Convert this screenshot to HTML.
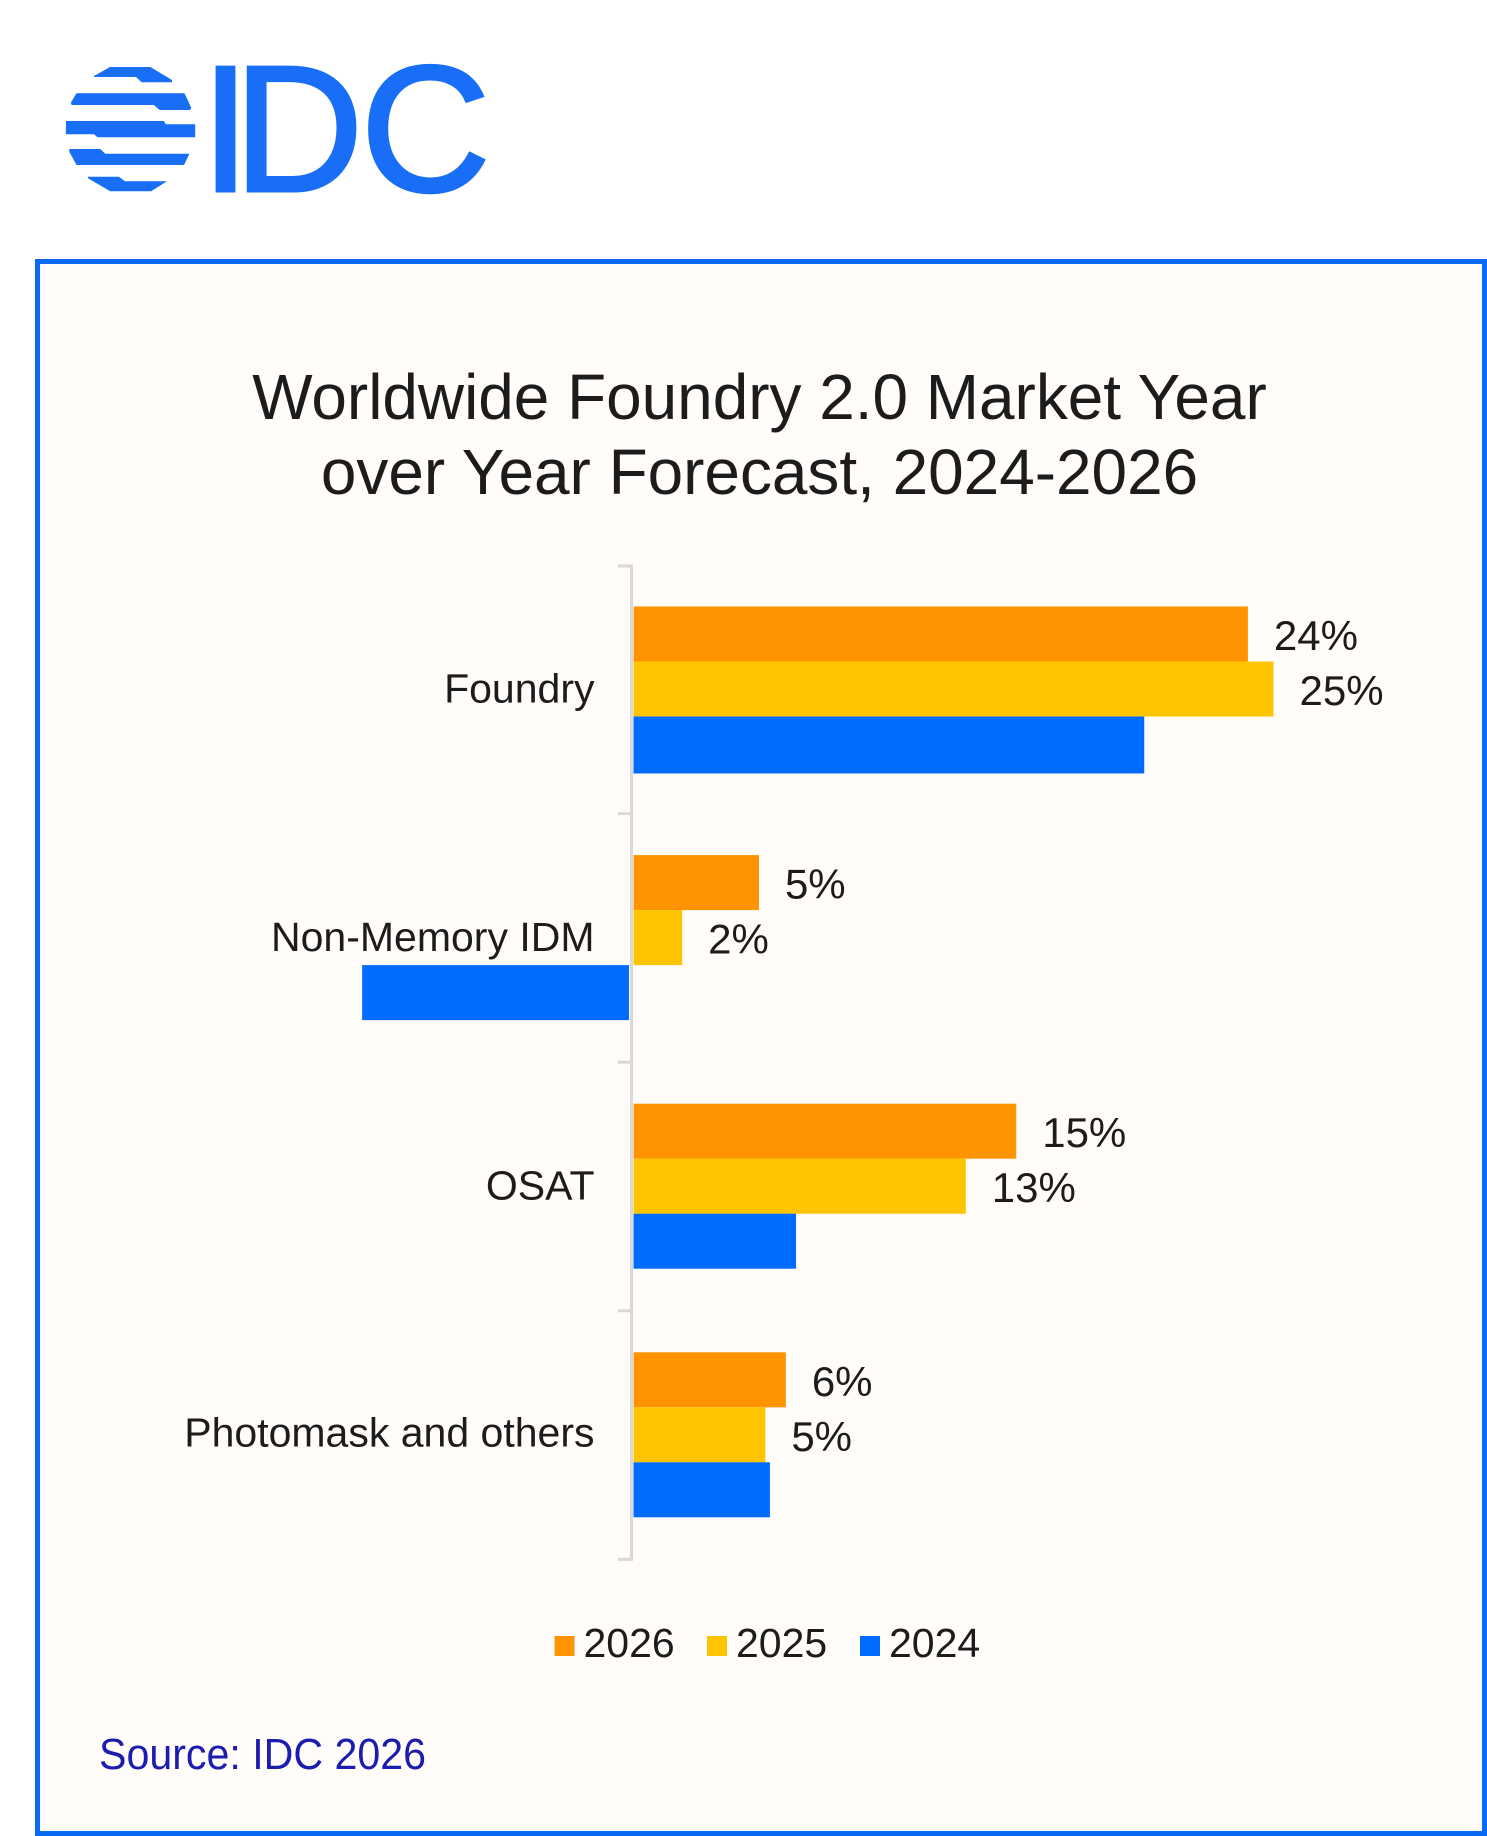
<!DOCTYPE html>
<html lang="en">
<head>
<meta charset="utf-8">
<title>Worldwide Foundry 2.0 Market Year over Year Forecast, 2024-2026</title>
<style>
html,body{margin:0;padding:0;background:#fff;width:1487px;height:1836px;overflow:hidden}
svg{display:block}
text{font-family:"Liberation Sans",sans-serif;fill:#1c1c1c}
</style>
</head>
<body>
<svg id="root" xmlns="http://www.w3.org/2000/svg" width="1487" height="1836" viewBox="0 0 1487 1836">
  <g>
    <g fill="#186ef6">
      <path d="M94 76L110 67H150.400L172 80V82.300H141.600L136 77H94Z"/>
      <path d="M76.500 93.300H184.500L191.300 107.700L190 110H159.600L153.800 105H71.600L70.800 102.700Z"/>
      <path d="M66 121H163.800L165.700 124.300H195.200V137.300H97.600L94 134.300H65.800Z"/>
      <path d="M69.300 149H100.300L105.200 153.700H189.400L184 165H76.500L69.300 151.700Z"/>
      <path d="M88 176.700H119L124.800 181.300H166.900L151.200 191.300H110.200L88 178.300Z"/>
    </g>
    <g>
      <text x="200.500" y="191" font-size="180" style="fill:#186ef6;stroke:#186ef6;stroke-width:3">I</text>
      <text x="233.500" y="191" font-size="180" style="fill:#186ef6;stroke:#186ef6;stroke-width:3">D</text>
      <text x="360.500" y="191" font-size="180" style="fill:#186ef6;stroke:#186ef6;stroke-width:3">C</text>
    </g>
  </g>
  <rect x="37.500" y="261.500" width="1447" height="1572" fill="#fffcf9" stroke="#0a6af5" stroke-width="5"/>
  <g>
    <text x="759.500" y="419" font-size="63.900" text-anchor="middle">Worldwide Foundry 2.0 Market Year</text>
    <text x="759.500" y="494" font-size="63.900" text-anchor="middle">over Year Forecast, 2024-2026</text>
  </g>
  <g id="plot"></g>
  <g id="legend"></g>
  <text x="99" y="1769" font-size="44" textLength="327" lengthAdjust="spacingAndGlyphs" style="fill:#1c1cae">Source: IDC 2026</text>
</svg>
<script>
const categories = ['Foundry', 'Non-Memory IDM', 'OSAT', 'Photomask and others'];
const seriesNames = ['2026', '2025', '2024'];
const values2026 = [24, 4.9, 14.95, 5.95];
const values2025 = [25, 1.9, 12.98, 5.15];
const values2024 = [19.95, -10.6, 6.35, 5.33];
const labels2026 = ['24%', '5%', '15%', '6%'];
const labels2025 = ['25%', '2%', '13%', '5%'];
const labels2024 = ['', '', '', ''];

const NS = 'http://www.w3.org/2000/svg';
const plot = document.getElementById('plot');
const legend = document.getElementById('legend');
const colors = ['#ff9400', '#ffc400', '#006cff'];
const allValues = [values2026, values2025, values2024];
const allLabels = [labels2026, labels2025, labels2024];
const ZERO = 633.5, PER_UNIT = 25.6, TOP = 565, BAND = 248.6, BAR_H = 55, BAR_PAD = 41.5;
function xScale(v) { return ZERO + v * PER_UNIT; }
function bandTop(i) { return TOP + i * BAND; }
function make(tag, parent) {
  const el = document.createElementNS(NS, tag);
  parent.appendChild(el);
  return el;
}
function setAll(el, props) {
  for (const k in props) el.setAttribute(k, props[k]);
}

const axis = make('path', plot);


let axisD = 'M631.5 ' + (bandTop(0) + 1) + 'V' + bandTop(categories.length);
for (let i = 0; i <= categories.length; i++) axisD += 'M618 ' + (i === 0 ? bandTop(i) + 1 : bandTop(i)) + 'H633';
setAll(axis, { d: axisD, fill: 'none', stroke: '#d9d9d9', 'stroke-width': 3 });

categories.forEach(function (cat, i) {
  const catLabel = make('text', plot);
  
  
  setAll(catLabel, { x: 594.5, y: bandTop(i) + 137.5 - (i === 3 ? 2 : 0), 'font-size': 41, 'text-anchor': 'end' });
  catLabel.textContent = cat;

  allValues.forEach(function (vals, s) {
    const v = vals[i];
    const y = bandTop(i) + BAR_PAD + s * BAR_H;
    const bar = make('rect', plot);
    
    
    const left = v < 0 ? xScale(v) : ZERO;
    const right = v < 0 ? ZERO - 4.5 : xScale(v);
    setAll(bar, { x: left, y: y, width: right - left, height: (s === 2 && i === 0) ? 57 : BAR_H, fill: colors[s] });
    if (allLabels[s][i]) {
      const label = make('text', plot);
      
      
      setAll(label, { x: xScale(v) + 26, y: y + 43.5, 'font-size': 42 });
      label.textContent = allLabels[s][i];
    }
  });
});

const legendSwatchX = [554.5, 707, 860];
seriesNames.forEach(function (name, s) {
  const swatch = make('rect', legend);
  
  
  setAll(swatch, { x: legendSwatchX[s], y: 1636, width: 20, height: 20, fill: colors[s] });
  const entry = make('text', legend);
  
  
  setAll(entry, { x: legendSwatchX[s] + 29, y: 1657, 'font-size': 41 });
  entry.textContent = name;
});
</script>
</body>
</html>
